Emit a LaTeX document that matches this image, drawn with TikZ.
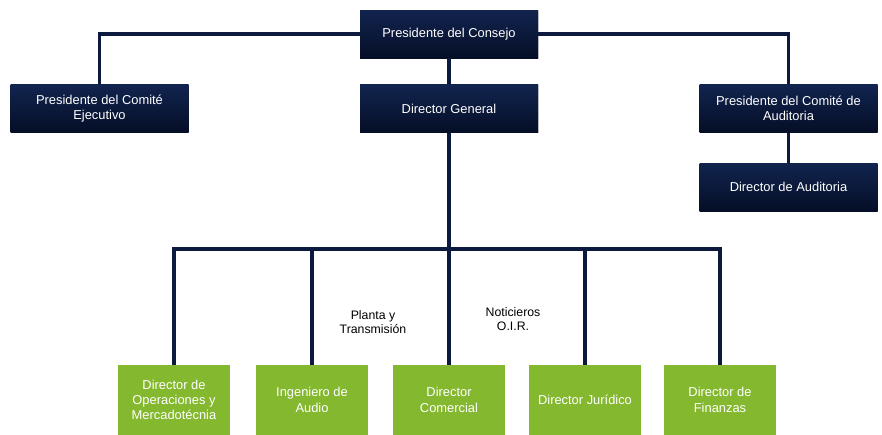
\documentclass[tikz,border=0pt]{standalone}
\usepackage{fontspec}
\setmainfont{Liberation Sans}
\usetikzlibrary{shadows}
\definecolor{navy}{HTML}{0B1A3E}
\definecolor{navytop}{HTML}{11244F}
\definecolor{navybot}{HTML}{050E26}
\definecolor{leaf}{HTML}{84B82F}
\tikzset{
  navybox/.style={rectangle, top color=navytop, bottom color=navybot, draw=none,
    text=white, minimum width=178*0.03cm, minimum height=48*0.03cm, align=center,
    font=\fontsize{11}{13}\selectfont,
    drop shadow={shadow xshift=0.8pt, shadow yshift=-0.8pt, opacity=0.35}},
  leafbox/.style={rectangle, fill=leaf, draw=none, text=white,
    minimum width=112*0.03cm, minimum height=70*0.03cm, align=center,
    font=\fontsize{11}{13}\selectfont},
  link/.style={draw=navy, line width=2.6pt},
  tag/.style={align=center, font=\fontsize{10.5}{12.5}\selectfont}
}
\begin{document}
\begin{tikzpicture}[x=0.03cm,y=-0.03cm]
  \useasboundingbox (0,0) rectangle (882,434);
  \coordinate (bus) at (449,249);
  % boxes
  \node[navybox] (pc) at (449,34) {Presidente del Consejo};
  \node[navybox] (pce) at (99.5,108.5) {Presidente del Comité\\Ejecutivo};
  \node[navybox] (dg) at (449,108.5) {Director General};
  \node[navybox] (pca) at (788.5,108.5) {Presidente del Comité de\\Auditoria};
  \node[navybox] (da) at (788.5,187) {Director de Auditoria};
  \node[leafbox] (dom) at (174,400) {Director de\\Operaciones y\\Mercadotécnia};
  \node[leafbox] (ia) at (312,400) {Ingeniero de\\Audio};
  \node[leafbox] (dc) at (449,400) {Director\\Comercial};
  \node[leafbox] (dj) at (585,400) {Director Jurídico};
  \node[leafbox] (df) at (720,400) {Director de\\Finanzas};
  % lines
  \draw[link] (pc.west) -| (pce.north);
  \draw[link] (pc.east) -| (pca.north);
  \draw[link] (pc.south) -- (dg.north);
  \draw[link] (pca.south) -- (da.north);
  \draw[link] (dg.south) -- (dc.north);
  \draw[link] (dom.north) |- (bus) -| (df.north);
  \draw[link] (ia.north) -- (ia.north |- bus);
  \draw[link] (dj.north) -- (dj.north |- bus);
  \node[tag] (pt) at (373,322) {Planta y\\Transmisión};
  \node[tag] (no) at (513,319) {Noticieros\\O.I.R.};
\end{tikzpicture}
\end{document}
